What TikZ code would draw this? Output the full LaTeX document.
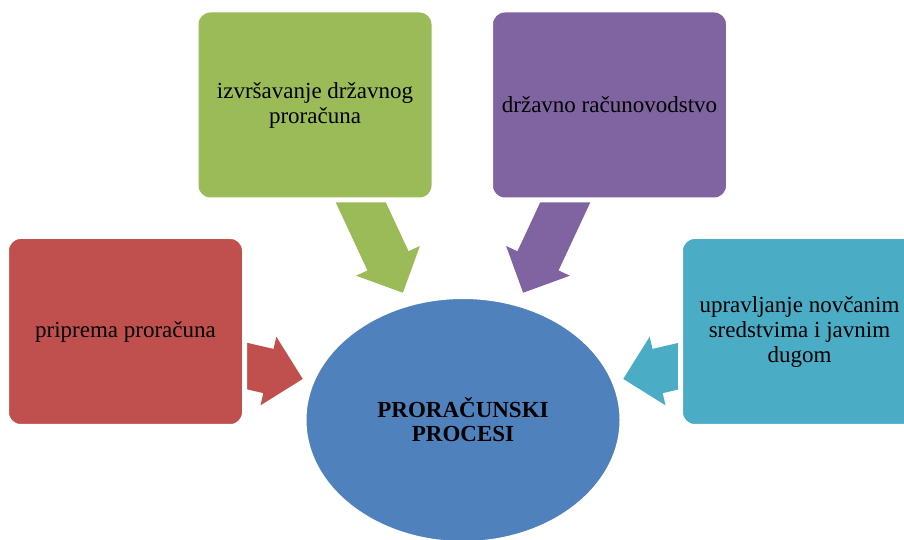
\documentclass[tikz,border=0pt]{standalone}
\usepackage{fontspec}
\setmainfont{Liberation Serif}
\usetikzlibrary{shapes.geometric,shapes.arrows,calc,backgrounds}
\definecolor{boxred}{HTML}{C0504D}
\definecolor{boxgreen}{HTML}{9BBB59}
\definecolor{boxpurple}{HTML}{8064A2}
\definecolor{boxcyan}{HTML}{4BACC6}
\definecolor{boxblue}{HTML}{4F81BD}
\begin{document}
\begin{tikzpicture}[x=1pt,y=1pt,
        procbox/.style={rectangle, rounded corners=14pt, draw=white, line width=5pt,
            minimum width=238pt, minimum height=190pt, inner sep=0pt, align=center,
            font=\fontsize{23}{25}\selectfont},
        blockarrow/.style={single arrow, single arrow head extend=12.5pt,
            inner xsep=0pt, inner ysep=22.5pt, minimum height=130pt, anchor=tip}]
    \useasboundingbox (0,0) rectangle (904,540);
    \clip (0,0) rectangle (904,540);
    \node[procbox, fill=boxred] (priprema) at (125.5,208.5) {priprema proračuna};
    \node[procbox, fill=boxgreen] (izvrsavanje) at (315,435) {izvršavanje državnog\\proračuna};
    \node[procbox, fill=boxpurple] (racunovodstvo) at (609.5,435) {državno računovodstvo};
    \node[procbox, fill=boxcyan] (upravljanje) at (799.5,208.5) {upravljanje novčanim\\sredstvima i javnim\\dugom};
    \node[ellipse, draw=white, line width=5pt, fill=boxblue, minimum width=318pt,
        minimum height=247pt, align=center, font=\bfseries\fontsize{23}{24}\selectfont]
        (procesi) at (463,120) {PRORAČUNSKI\\PROCESI};
    \begin{pgfonlayer}{background}
        \node[blockarrow, fill=boxred, rotate=-13] (priprema-procesi) at ($(procesi.center)+(-160,41)$) {};
        \node[blockarrow, fill=boxgreen, rotate=-65] (izvrsavanje-procesi) at ($(procesi.center)+(-60,127)$) {};
        \node[blockarrow, fill=boxpurple, rotate=-115] (racunovodstvo-procesi) at ($(procesi.center)+(60,127)$) {};
        \node[blockarrow, fill=boxcyan, rotate=193] (upravljanje-procesi) at ($(procesi.center)+(160,41)$) {};
    \end{pgfonlayer}
\end{tikzpicture}
\end{document}
